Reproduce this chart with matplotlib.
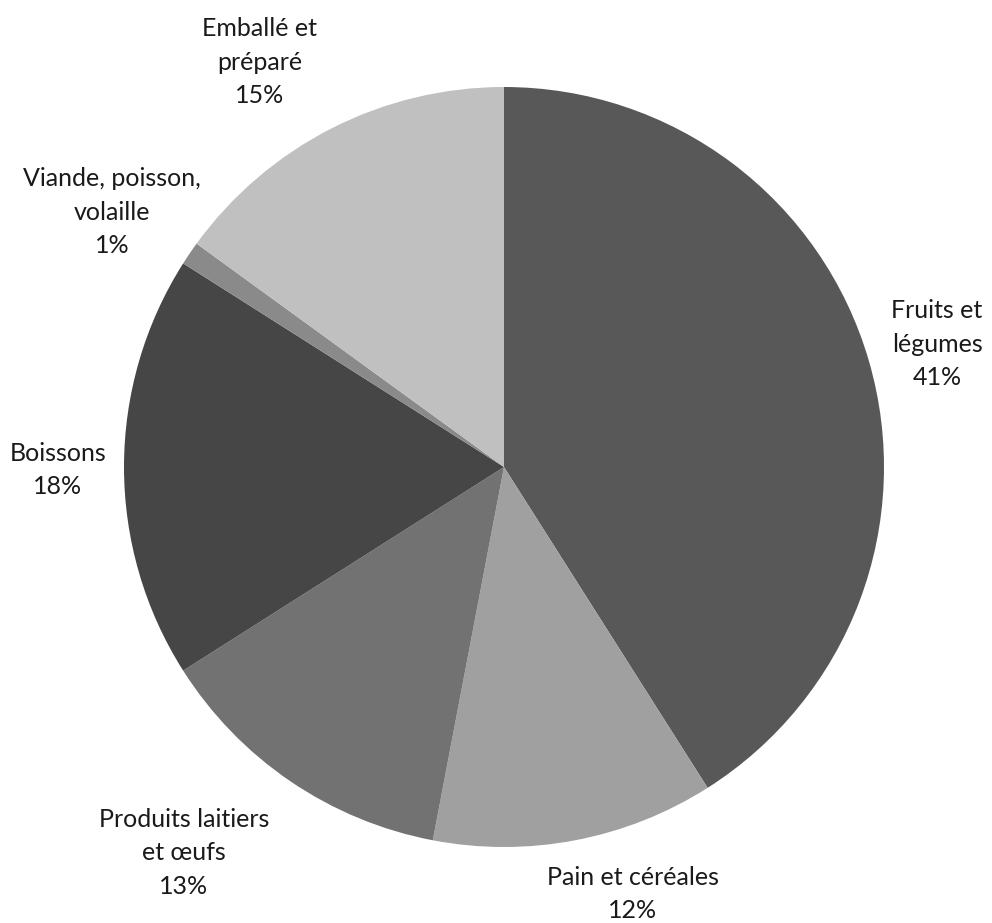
import matplotlib.pyplot as plt

# Food category shares (percent), clockwise from 12 o'clock
categories = [
    "Fruits et\nlégumes",
    "Pain et céréales",
    "Produits laitiers\net œufs",
    "Boissons",
    "Viande, poisson,\nvolaille",
    "Emballé et\npréparé",
]
shares = [41, 12, 13, 18, 1, 15]
colors = ["#585858", "#a0a0a0", "#727272", "#464646", "#8a8a8a", "#c0c0c0"]

# Label centres in figure pixels (x, y from top)
label_pos = [(937, 344), (633, 894), (184, 853), (58, 470), (112, 212), (260, 62)]

W, H = 992, 923
plt.rcParams["font.family"] = ["Lato", "DejaVu Sans"]

fig = plt.figure(figsize=(W / 100, H / 100), dpi=100)
cx, cy, r = 504, 467, 380
ax = fig.add_axes([(cx - r) / W, (H - cy - r) / H, 2 * r / W, 2 * r / H])
ax.pie(shares, colors=colors, startangle=90, counterclock=False,
       wedgeprops=dict(linewidth=0))
ax.set_xlim(-1, 1)
ax.set_ylim(-1, 1)
ax.set_aspect("equal")
ax.axis("off")

for name, val, (px, py) in zip(categories, shares, label_pos):
    fig.text(px / W, 1 - py / H, f"{name}\n{val}%", ha="center", va="center",
             fontsize=18, color="#1a1a1a", linespacing=1.55)

fig.savefig("out.png", dpi=100)
